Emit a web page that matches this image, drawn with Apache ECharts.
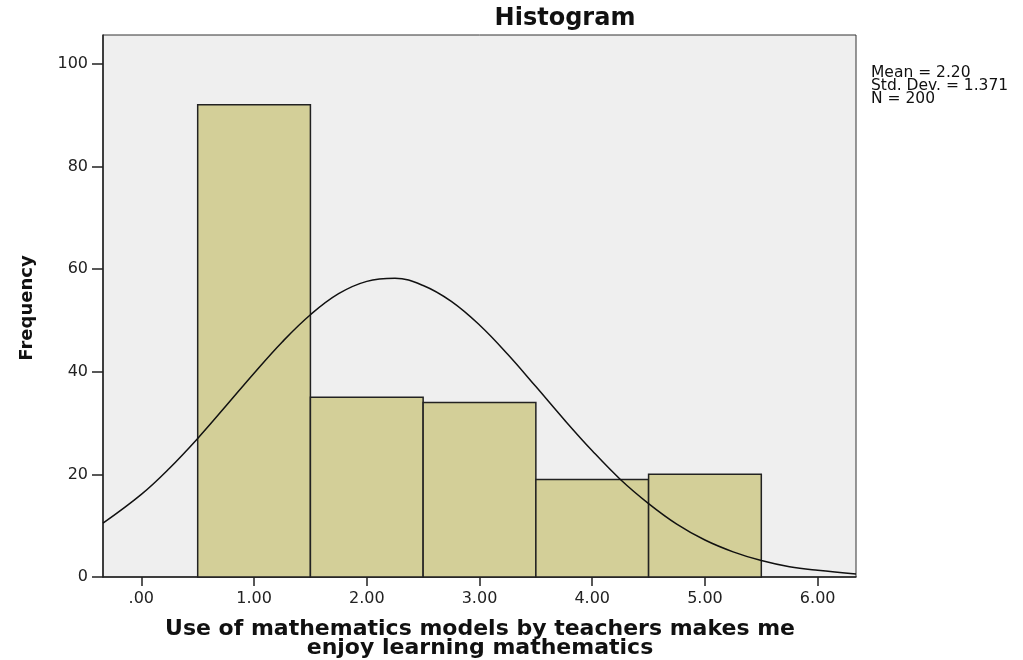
<!DOCTYPE html>
<html>
<head>
<meta charset="utf-8">
<script src="https://cdn.jsdelivr.net/npm/echarts@6/dist/echarts.min.js"></script>
<style>
  html, body { margin: 0; padding: 0; background: #fff; }
  #chart { width: 1023px; height: 660px; }
</style>
</head>
<body>
<div id="chart"></div>
<script>
// histogram bins (width 1) and their frequencies
const binCenters = [1, 2, 3, 4, 5];
const counts = [92, 35, 34, 19, 20];
const binWidth = 1;

// normal curve
const curveX = [-0.34, 0, 0.25, 0.5, 0.75, 1, 1.25, 1.5, 1.75, 2, 2.25, 2.5, 2.75, 3, 3.25, 3.5, 3.75, 4, 4.25, 4.5, 4.75, 5, 5.25, 5.5, 5.75, 6, 6.34];
const curveY = [10.5, 16.1, 21.2, 27.0, 33.3, 39.7, 45.8, 51.1, 55.2, 57.6, 58.2, 56.8, 53.7, 49.1, 43.4, 37.1, 30.7, 24.6, 19.0, 14.3, 10.3, 7.2, 4.9, 3.2, 2.0, 1.3, 0.6];

const xTicks = [0, 1, 2, 3, 4, 5, 6];
const yTicks = [0, 20, 40, 60, 80, 100];
const statLines = ['Mean = 2.20', 'Std. Dev. = 1.371', 'N = 200'];

const titleText = 'Histogram';
const xName = 'Use of mathematics models by teachers makes me\nenjoy learning mathematics';
const yName = 'Frequency';

const chart = echarts.init(document.getElementById('chart'));

const barData = binCenters.map((c, i) => [c, counts[i]]);
const lineData = curveX.map((x, i) => [x, curveY[i]]);

chart.setOption({
    animation: false,
    grid: {
        left: 103, top: 35, width: 753, height: 542,
        show: true,
        backgroundColor: '#efefef',
        borderColor: '#333',
        borderWidth: 1
    },
    xAxis: {
        type: 'value',
        min: -0.34,
        max: 6.34,
        splitLine: { show: false },
        axisLine: { show: true, onZero: false, lineStyle: { color: '#222', width: 1.5 } },
        axisTick: { show: true, length: 9, customValues: xTicks, lineStyle: { color: '#222', width: 1.5 } },
        axisLabel: {
            customValues: xTicks,
            margin: 14,
            fontFamily: 'DejaVu Sans',
            fontSize: 16,
            color: '#222',
            formatter: v => v === 0 ? '.00' : v.toFixed(2)
        }
    },
    yAxis: {
        type: 'value',
        min: 0,
        max: 105.6,
        splitLine: { show: false },
        axisLine: { show: true, onZero: false, lineStyle: { color: '#222', width: 1.5 } },
        axisTick: { show: true, length: 11, customValues: yTicks, lineStyle: { color: '#222', width: 1.5 } },
        axisLabel: {
            customValues: yTicks,
            margin: 15,
            fontFamily: 'DejaVu Sans',
            fontSize: 16,
            color: '#222'
        }
    },
    series: [
        {
            type: 'custom',
            data: barData,
            z: 2,
            renderItem: function (params, api) {
                const c = api.value(0);
                const n = api.value(1);
                const p0 = api.coord([c - binWidth / 2, n]);
                const p1 = api.coord([c + binWidth / 2, 0]);
                return {
                    type: 'rect',
                    shape: { x: p0[0], y: p0[1], width: p1[0] - p0[0], height: p1[1] - p0[1] },
                    style: { fill: '#d3cf98', stroke: '#222', lineWidth: 1.5 }
                };
            }
        },
        {
            type: 'line',
            data: lineData,
            smooth: 0.4,
            showSymbol: false,
            z: 3,
            lineStyle: { color: '#111', width: 1.5 }
        }
    ],
    graphic: [
        {
            type: 'text', x: 565, y: 19,
            style: { text: titleText, font: 'bold 24px "DejaVu Sans"', fill: '#111', textAlign: 'center', textVerticalAlign: 'middle' }
        },
        {
            type: 'text', x: 480, y: 639,
            style: { text: xName, font: 'bold 22px "DejaVu Sans"', lineHeight: 19, fill: '#111', textAlign: 'center', textVerticalAlign: 'middle' }
        },
        {
            type: 'text', x: 27, y: 308, rotation: Math.PI / 2,
            style: { text: yName, font: 'bold 18px "DejaVu Sans"', fill: '#111', textAlign: 'center', textVerticalAlign: 'middle' }
        },
        {
            type: 'text', x: 871, y: 86,
            style: { text: statLines.join('\n'), font: '15.5px "DejaVu Sans"', lineHeight: 13, fill: '#111', textAlign: 'left', textVerticalAlign: 'middle' }
        }
    ]
});
</script>
</body>
</html>
